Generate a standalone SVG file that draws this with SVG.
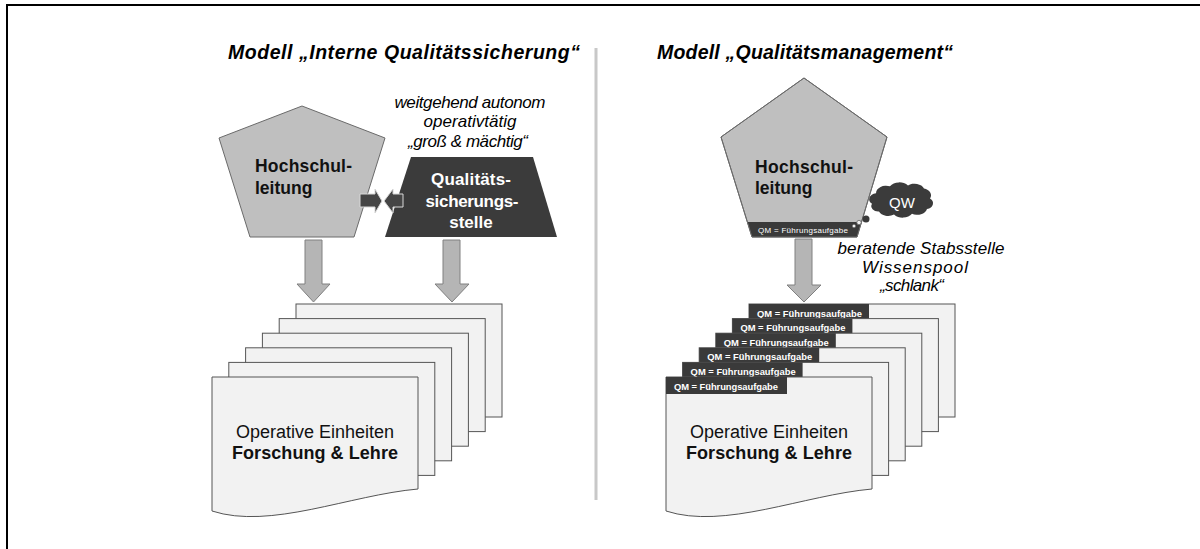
<svg xmlns="http://www.w3.org/2000/svg" width="1200" height="549" viewBox="0 0 1200 549">
<style>
  text { font-family: "Liberation Sans", Arial, sans-serif; }
  .title { font-size: 19.5px; font-weight: bold; font-style: italic; fill: #000; }
  .note { font-size: 17px; font-style: italic; fill: #000; text-anchor: middle; }
  .pent { fill: #bfbfbf; stroke: #6a6a6a; stroke-width: 1; }
  .pentTxt { font-size: 17.5px; font-weight: bold; fill: #111; }
  .dark { fill: #3b3b3b; }
  .qssTxt { font-size: 17px; font-weight: bold; fill: #fff; text-anchor: middle; }
  .page { fill: #f2f2f2; stroke: #555; stroke-width: 1; }
  .pageTxt { font-size: 18px; fill: #111; text-anchor: middle; }
  .pageTxtB { font-size: 18px; font-weight: bold; fill: #111; text-anchor: middle; }
  .band { fill: #3a3a3a; }
  .bandTxt { font-size: 9.4px; font-weight: bold; fill: #fff; }
  .garrow { fill: #b5b5b5; stroke: #808080; stroke-width: 1; }
  .darrow { fill: #454545; stroke: #d8d8d8; stroke-width: 1; }
</style>
<rect x="0" y="0" width="1200" height="549" fill="#fff"/>
<g id="frame">
  <line x1="6" y1="5" x2="1200" y2="5" stroke="#000" stroke-width="2"/>
  <line x1="7" y1="4" x2="7" y2="549" stroke="#000" stroke-width="2"/>
</g>
<g id="divider">
  <line x1="596" y1="48" x2="596" y2="500" stroke="#c8c8c8" stroke-width="3"/>
</g>
<g id="title-left">
  <text class="title" x="228" y="59" textLength="352">Modell „Interne Qualitätssicherung“</text>
</g>
<g id="title-right">
  <text class="title" x="657" y="59" textLength="296">Modell „Qualitätsmanagement“</text>
</g>

<!-- Left model -->
<g id="pages-left">
  <rect class="page" x="296" y="304" width="206" height="113"/>
  <rect class="page" x="279.2" y="318.6" width="206" height="113"/>
  <rect class="page" x="262.4" y="333.2" width="206" height="113"/>
  <rect class="page" x="245.6" y="347.8" width="206" height="113"/>
  <rect class="page" x="228.8" y="362.4" width="206" height="113"/>
  <path class="page" d="M212,377 H418 V489 C350,495 270,530 212,511 Z"/>
  <text class="pageTxt" x="315" y="438" textLength="158">Operative Einheiten</text>
  <text class="pageTxtB" x="315" y="459" textLength="166">Forschung &amp; Lehre</text>
</g>
<g id="hsl-left">
  <polygon class="pent" points="302,106 385,138 354,237 250,237 219,138"/>
  <text class="pentTxt" x="255" y="172" textLength="97">Hochschul-</text>
  <text class="pentTxt" x="255" y="194">leitung</text>
</g>
<g id="qss">
  <polygon class="dark" points="411,157 533,157 557,237 385,237"/>
  <text class="qssTxt" x="471" y="185" textLength="80">Qualitäts-</text>
  <text class="qssTxt" x="472" y="206.5" textLength="93">sicherungs-</text>
  <text class="qssTxt" x="471" y="228">stelle</text>
</g>
<g id="note-left">
  <text class="note" x="470" y="108" textLength="151">weitgehend autonom</text>
  <text class="note" x="470" y="127" textLength="93">operativtätig</text>
  <text class="note" x="468" y="147" textLength="120">„groß &amp; mächtig“</text>
</g>

<!-- Right model -->
<g id="pages-right">
  <rect class="page" x="749" y="304" width="206" height="113"/>
  <rect class="band" x="749" y="304" width="120" height="17"/>
  <text class="bandTxt" x="757" y="316.5" textLength="105">QM = Führungsaufgabe</text>
  <rect class="page" x="732.4" y="318.6" width="206" height="113"/>
  <rect class="band" x="732.4" y="318.6" width="120" height="17"/>
  <text class="bandTxt" x="740.4" y="331.1" textLength="105">QM = Führungsaufgabe</text>
  <rect class="page" x="715.8" y="333.2" width="206" height="113"/>
  <rect class="band" x="715.8" y="333.2" width="120" height="17"/>
  <text class="bandTxt" x="723.8" y="345.7" textLength="105">QM = Führungsaufgabe</text>
  <rect class="page" x="699.2" y="347.8" width="206" height="113"/>
  <rect class="band" x="699.2" y="347.8" width="120" height="17"/>
  <text class="bandTxt" x="707.2" y="360.3" textLength="105">QM = Führungsaufgabe</text>
  <rect class="page" x="682.6" y="362.4" width="206" height="113"/>
  <rect class="band" x="682.6" y="362.4" width="120" height="17"/>
  <text class="bandTxt" x="690.6" y="374.9" textLength="105">QM = Führungsaufgabe</text>
  <path class="page" d="M666,377 H872 V489 C804,495 724,530 666,511 Z"/>
  <rect class="band" x="666" y="377" width="121" height="17"/>
  <text class="bandTxt" x="674" y="389.5" textLength="104">QM = Führungsaufgabe</text>
  <text class="pageTxt" x="769" y="438" textLength="158">Operative Einheiten</text>
  <text class="pageTxtB" x="769" y="459" textLength="166">Forschung &amp; Lehre</text>
</g>
<g id="hsl-right">
  <polygon class="pent" points="804,78 887,137 857,237 752,237 721,137"/>
  <polygon class="band" points="747.4,222 861.5,222 857,237 752,237"/>
  <polygon points="804,78 887,137 857,237 752,237 721,137" fill="none" stroke="#6a6a6a" stroke-width="1"/>
  <text class="pentTxt" x="755" y="173" textLength="98">Hochschul-</text>
  <text class="pentTxt" x="755" y="194">leitung</text>
  <text x="758" y="233" font-size="8" fill="#fff" textLength="90">QM = Führungsaufgabe</text>
</g>
<g id="cloud-qw">
  <circle cx="854" cy="226" r="1.6" fill="#fff" stroke="#777" stroke-width="0.8"/>
  <circle cx="859" cy="222.5" r="2.2" fill="#eee" stroke="#666" stroke-width="0.8"/>
  <circle cx="866" cy="219" r="3.5" fill="#3a3a3a"/>
  <path class="dark" transform="translate(901,200) scale(1,0.76) translate(-901,-202)" d="M872,207 a8,8 0 0 1 4,-14 a10,10 0 0 1 14,-9 a11,11 0 0 1 18,-1 a10,10 0 0 1 16,4 a9,9 0 0 1 6,13 a8,8 0 0 1 -3,14 a10,10 0 0 1 -15,6 a11,11 0 0 1 -18,1 a10,10 0 0 1 -15,-4 a7,7 0 0 1 -7,-10 z"/>
  <text x="902" y="208" font-size="15" fill="#fff" text-anchor="middle">QW</text>
</g>
<g id="note-right">
  <text class="note" x="921" y="254" textLength="167">beratende Stabsstelle</text>
  <text class="note" x="915" y="273" textLength="106">Wissenspool</text>
  <text class="note" x="912" y="291" textLength="64">„schlank“</text>
</g>

<g id="connectors">
  <polygon class="garrow" points="305,240 322,240 322,284 330,284 313.5,302 297,284 305,284"/>
  <polygon class="garrow" points="443,240 460,240 460,284 469,284 452,302 435,284 443,284"/>
  <polygon class="garrow" points="795,239 812,239 812,285 821,285 804,302 787,285 795,285"/>
  <polygon class="darrow" points="360,194 375,194 375,189 382,201 375,213 375,207 360,207"/>
  <polygon class="darrow" points="403,194 393,194 393,189 384,201 393,213 393,207 403,207"/>
</g>
</svg>
